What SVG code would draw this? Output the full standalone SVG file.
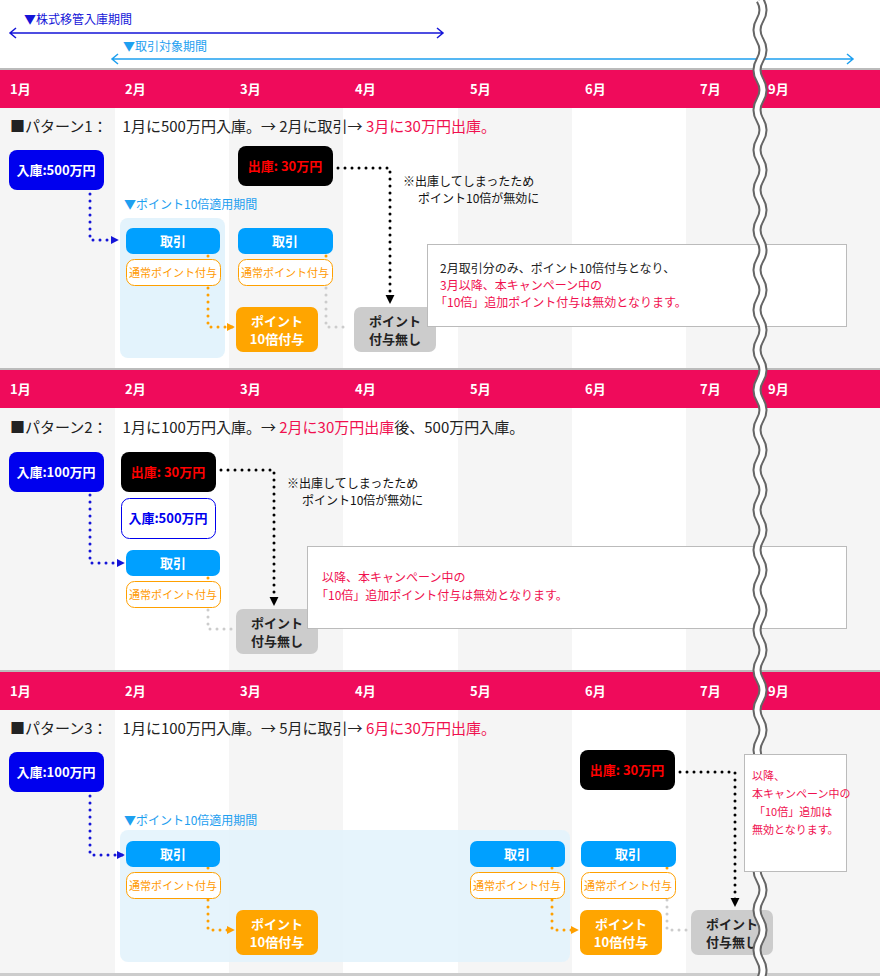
<svg xmlns="http://www.w3.org/2000/svg" width="880" height="976" viewBox="0 0 880 976">
<defs>
<style>
text{font-family:"Noto Sans CJK JP","Noto Sans CJK SC",sans-serif;}
.g{fill:#f5f5f5}
.band{fill:#ef0b5b}
.mo{fill:#fff;font-size:13px;font-weight:bold}
.ttl{font-size:15px;fill:#222}
.red{fill:#f0104f}
.bx{font-size:13px;font-weight:bold;text-anchor:middle}
.sm{font-size:12px;fill:#111}
.tr{fill:#00a0ff}
.nm{fill:#fff;stroke:#ffa000;stroke-width:1}
.nmt{fill:#ff9900;font-size:11px;text-anchor:middle}
.p10{fill:#ffa500}
.pn{fill:#ccc}
.note{fill:#fff;stroke:#bbb;stroke-width:1}
.dotb{fill:none;stroke:#1515d8;stroke-width:3;stroke-dasharray:0 7;stroke-linecap:round}
.doto{fill:none;stroke:#ffa000;stroke-width:3;stroke-dasharray:0 7;stroke-linecap:round}
.dotg{fill:none;stroke:#ccc;stroke-width:3;stroke-dasharray:0 7;stroke-linecap:round}
.dotk{fill:none;stroke:#000;stroke-width:3;stroke-dasharray:0 7;stroke-linecap:round}
</style>
<marker id="ab" viewBox="0 0 10 10" refX="9" refY="5" markerWidth="8" markerHeight="8" markerUnits="userSpaceOnUse" orient="auto"><path d="M0,0L10,5L0,10z" fill="#1515d8"/></marker>
<marker id="ao" viewBox="0 0 10 10" refX="9" refY="5" markerWidth="8" markerHeight="10" markerUnits="userSpaceOnUse" orient="auto"><path d="M0,0L10,5L0,10z" fill="#ffa000"/></marker>
<marker id="ak" viewBox="0 0 10 10" refX="9" refY="5" markerWidth="9" markerHeight="16" markerUnits="userSpaceOnUse" orient="auto"><path d="M0,0L10,5L0,10z" fill="#000"/></marker>
</defs>
<rect width="880" height="976" fill="#fff"/>
<g id="columns">
<rect class="g" x="0" y="70" width="115" height="904"/>
<rect class="g" x="229" y="70" width="114" height="904"/>
<rect class="g" x="458" y="70" width="114" height="904"/>
<rect class="g" x="686" y="70" width="194" height="904"/>
<rect x="0" y="973" width="880" height="3" fill="#ccc"/>
</g>
<g id="bands">
<rect x="0" y="68" width="880" height="2" fill="#bbb"/>
<rect class="band" x="0" y="70" width="880" height="38"/>
<rect x="0" y="368" width="880" height="2" fill="#bbb"/>
<rect class="band" x="0" y="370" width="880" height="38"/>
<rect x="0" y="670" width="880" height="2" fill="#bbb"/>
<rect class="band" x="0" y="672" width="880" height="38"/>
<g class="mo">
<text x="10" y="94">1月</text><text x="125" y="94">2月</text><text x="240" y="94">3月</text><text x="355" y="94">4月</text><text x="470" y="94">5月</text><text x="585" y="94">6月</text><text x="700" y="94">7月</text><text x="768" y="94">9月</text>
<text x="10" y="394">1月</text><text x="125" y="394">2月</text><text x="240" y="394">3月</text><text x="355" y="394">4月</text><text x="470" y="394">5月</text><text x="585" y="394">6月</text><text x="700" y="394">7月</text><text x="768" y="394">9月</text>
<text x="10" y="696">1月</text><text x="125" y="696">2月</text><text x="240" y="696">3月</text><text x="355" y="696">4月</text><text x="470" y="696">5月</text><text x="585" y="696">6月</text><text x="700" y="696">7月</text><text x="768" y="696">9月</text>
</g>
</g>
<g id="periods">
<text x="24" y="24" font-size="12" fill="#1515d8">▼株式移管入庫期間</text>
<path d="M10,33H443M16,28L10,33L16,38M437,28L443,33L437,38" fill="none" stroke="#1515d8" stroke-width="1.5"/>
<text x="123" y="51" font-size="12" fill="#1ea0f0">▼取引対象期間</text>
<path d="M112,59H853M118,54L112,59L118,64M847,54L853,59L847,64" fill="none" stroke="#1ea0f0" stroke-width="1.5"/>
</g>
<g id="titles">
<text class="ttl" x="10" y="132">■パターン1：　1月に500万円入庫。→ 2月に取引→ <tspan class="red">3月に30万円出庫。</tspan></text>
<text class="ttl" x="10" y="433">■パターン2：　1月に100万円入庫。→ <tspan class="red">2月に30万円出庫</tspan>後、500万円入庫。</text>
<text class="ttl" x="10" y="734">■パターン3：　1月に100万円入庫。→ 5月に取引→ <tspan class="red">6月に30万円出庫。</tspan></text>
</g>
<g id="zones">
<rect x="120" y="218" width="105" height="140" rx="8" fill="#e3f3fc"/>
<text x="124" y="209" font-size="12" fill="#1ea0f0">▼ポイント10倍適用期間</text>
<rect x="120" y="830" width="450" height="132" rx="8" fill="#e3f3fc" opacity="0.9"/>
<text x="124" y="825" font-size="12" fill="#1ea0f0">▼ポイント10倍適用期間</text>
</g>
<g id="connectors">
<path class="dotb" d="M90,194V240H118" marker-end="url(#ab)"/>
<path class="doto" d="M208,256V258"/>
<path class="doto" d="M208,288V327H234" marker-end="url(#ao)"/>
<path class="doto" d="M326,256V258"/>
<path class="dotg" d="M326,288V327H350"/>
<path class="dotk" d="M338,168H390V303" marker-end="url(#ak)"/>
<path class="dotb" d="M90,495V563H124" marker-end="url(#ab)"/>
<path class="doto" d="M208,578V580"/>
<path class="dotg" d="M208,610V629H232"/>
<path class="dotk" d="M221,470H274V605" marker-end="url(#ak)"/>
<path class="dotb" d="M90,796V855H124" marker-end="url(#ab)"/>
<path class="doto" d="M208,868V870"/>
<path class="doto" d="M208,900V930H234" marker-end="url(#ao)"/>
<path class="doto" d="M552,868V870"/>
<path class="doto" d="M552,900V930H578" marker-end="url(#ao)"/>
<path class="doto" d="M667,868V870"/>
<path class="dotg" d="M667,900V930H689"/>
<path class="dotk" d="M680,772H735V906" marker-end="url(#ak)"/>
</g>
<g id="p1">
<g id="p1-in"><rect x="9" y="150" width="95" height="40" rx="8" fill="#0000ee"/><text class="bx" x="56" y="175" fill="#fff">入庫:500万円</text></g>
<g id="p1-out"><rect x="238" y="146" width="95" height="40" rx="8" fill="#000"/><text class="bx" x="285" y="171" fill="#f00">出庫: 30万円</text></g>
<text class="sm" x="403" y="186">※出庫してしまったため</text><text class="sm" x="418" y="203">ポイント10倍が無効に</text>
<g id="p1-t1"><rect class="tr" x="126" y="228" width="94" height="26" rx="7"/><text class="bx" x="173" y="246" fill="#fff">取引</text></g>
<g id="p1-n1"><rect class="nm" x="126.5" y="259.5" width="94" height="26" rx="8"/><text class="nmt" x="173" y="277">通常ポイント付与</text></g>
<g id="p1-t2"><rect class="tr" x="238" y="228" width="95" height="26" rx="7"/><text class="bx" x="285" y="246" fill="#fff">取引</text></g>
<g id="p1-n2"><rect class="nm" x="238.5" y="259.5" width="94" height="26" rx="8"/><text class="nmt" x="285" y="277">通常ポイント付与</text></g>
<g id="p1-p10"><rect class="p10" x="236" y="307" width="82" height="45" rx="7"/><text class="bx" x="277" y="326" fill="#fff">ポイント</text><text class="bx" x="277" y="344" fill="#fff">10倍付与</text></g>
<g id="p1-none"><rect class="pn" x="354" y="307" width="82" height="45" rx="7"/><text class="bx" x="395" y="326" fill="#222" font-weight="normal">ポイント</text><text class="bx" x="395" y="344" fill="#222" font-weight="normal">付与無し</text></g>
<g id="p1-note"><rect class="note" x="427.5" y="244.5" width="419" height="82"/><text x="440" y="273" font-size="12" fill="#222">2月取引分のみ、ポイント10倍付与となり、</text><text x="440" y="290" font-size="12" class="red">3月以降、本キャンペーン中の</text><text x="435" y="307" font-size="12" class="red">「10倍」追加ポイント付与は無効となります。</text></g>
</g>
<g id="p2">
<g id="p2-in"><rect x="9" y="452" width="95" height="40" rx="8" fill="#0000ee"/><text class="bx" x="56" y="477" fill="#fff">入庫:100万円</text></g>
<g id="p2-out"><rect x="121" y="452" width="95" height="40" rx="8" fill="#000"/><text class="bx" x="168" y="477" fill="#f00">出庫: 30万円</text></g>
<g id="p2-in2"><rect x="121.5" y="498.5" width="94" height="40" rx="8" fill="#fff" stroke="#0000ee"/><text class="bx" x="168" y="523" fill="#0000ee" font-weight="normal">入庫:500万円</text></g>
<text class="sm" x="287" y="488">※出庫してしまったため</text><text class="sm" x="302" y="505">ポイント10倍が無効に</text>
<g id="p2-t1"><rect class="tr" x="126" y="550" width="94" height="26" rx="7"/><text class="bx" x="173" y="568" fill="#fff">取引</text></g>
<g id="p2-n1"><rect class="nm" x="126.5" y="581.5" width="94" height="26" rx="8"/><text class="nmt" x="173" y="599">通常ポイント付与</text></g>
<g id="p2-none"><rect class="pn" x="236" y="609" width="82" height="45" rx="7"/><text class="bx" x="277" y="628" fill="#222" font-weight="normal">ポイント</text><text class="bx" x="277" y="646" fill="#222" font-weight="normal">付与無し</text></g>
<g id="p2-note"><rect class="note" x="307.5" y="546.5" width="539" height="82"/><text x="322" y="582" font-size="12" class="red">以降、本キャンペーン中の</text><text x="316" y="600" font-size="12" class="red">「10倍」追加ポイント付与は無効となります。</text></g>
</g>
<g id="p3">
<g id="p3-in"><rect x="9" y="752" width="95" height="40" rx="8" fill="#0000ee"/><text class="bx" x="56" y="777" fill="#fff">入庫:100万円</text></g>
<g id="p3-out"><rect x="580" y="750" width="95" height="40" rx="8" fill="#000"/><text class="bx" x="627" y="775" fill="#f00">出庫: 30万円</text></g>
<g id="p3-t1"><rect class="tr" x="126" y="841" width="94" height="26" rx="7"/><text class="bx" x="173" y="859" fill="#fff">取引</text></g>
<g id="p3-n1"><rect class="nm" x="126.5" y="872.5" width="94" height="26" rx="8"/><text class="nmt" x="173" y="890">通常ポイント付与</text></g>
<g id="p3-t2"><rect class="tr" x="470" y="841" width="95" height="26" rx="7"/><text class="bx" x="517" y="859" fill="#fff">取引</text></g>
<g id="p3-n2"><rect class="nm" x="470.5" y="872.5" width="94" height="26" rx="8"/><text class="nmt" x="517" y="890">通常ポイント付与</text></g>
<g id="p3-t3"><rect class="tr" x="581" y="841" width="95" height="26" rx="7"/><text class="bx" x="628" y="859" fill="#fff">取引</text></g>
<g id="p3-n3"><rect class="nm" x="581.5" y="872.5" width="94" height="26" rx="8"/><text class="nmt" x="628" y="890">通常ポイント付与</text></g>
<g id="p3-p10a"><rect class="p10" x="236" y="910" width="82" height="45" rx="7"/><text class="bx" x="277" y="929" fill="#fff">ポイント</text><text class="bx" x="277" y="947" fill="#fff">10倍付与</text></g>
<g id="p3-p10b"><rect class="p10" x="580" y="910" width="82" height="45" rx="7"/><text class="bx" x="621" y="929" fill="#fff">ポイント</text><text class="bx" x="621" y="947" fill="#fff">10倍付与</text></g>
<g id="p3-none"><rect class="pn" x="691" y="910" width="82" height="45" rx="7"/><text class="bx" x="732" y="929" fill="#222" font-weight="normal">ポイント</text><text class="bx" x="732" y="947" fill="#222" font-weight="normal">付与無し</text></g>
</g>
<g id="break">
<path d="M760,0q6,10 0,20t0,20t0,20t0,20t0,20t0,20t0,20t0,20t0,20t0,20t0,20t0,20t0,20t0,20t0,20t0,20t0,20t0,20t0,20t0,20t0,20t0,20t0,20t0,20t0,20t0,20t0,20t0,20t0,20t0,20t0,20t0,20t0,20t0,20t0,20t0,20t0,20t0,20t0,20t0,20t0,20t0,20t0,20t0,20t0,20t0,20t0,20t0,20t0,20t0,20" fill="none" stroke="#666" stroke-width="9"/>
<path d="M760,0q6,10 0,20t0,20t0,20t0,20t0,20t0,20t0,20t0,20t0,20t0,20t0,20t0,20t0,20t0,20t0,20t0,20t0,20t0,20t0,20t0,20t0,20t0,20t0,20t0,20t0,20t0,20t0,20t0,20t0,20t0,20t0,20t0,20t0,20t0,20t0,20t0,20t0,20t0,20t0,20t0,20t0,20t0,20t0,20t0,20t0,20t0,20t0,20t0,20t0,20t0,20" fill="none" stroke="#fff" stroke-width="5"/>
</g>
<g id="p3-note"><rect class="note" x="744.5" y="754.5" width="102" height="117"/><g font-size="11" class="red"><text x="752" y="780">以降、</text><text x="752" y="798">本キャンペーン中の</text><text x="754" y="816">「10倍」追加は</text><text x="752" y="834">無効となります。</text></g></g>
</svg>
